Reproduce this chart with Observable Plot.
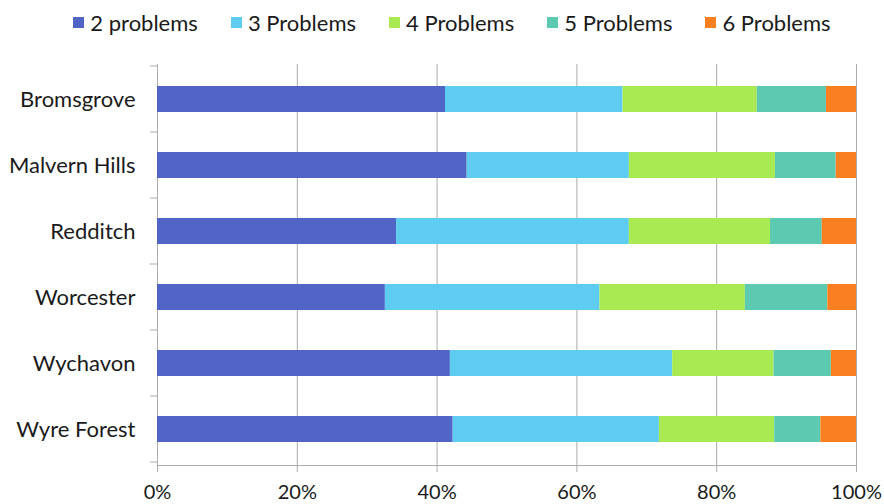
<!DOCTYPE html>
<html>
<head>
<meta charset="utf-8">
<script src="https://cdn.jsdelivr.net/npm/d3@7"></script>
<script src="https://cdn.jsdelivr.net/npm/@observablehq/plot@0.6"></script>
<style>
  html, body { margin: 0; padding: 0; background: #fff; }
  body { width: 884px; height: 504px; overflow: hidden; font-family: Lato, "Open Sans", sans-serif; color: #1a1a1a; }
  #legend { height: 45px; display: flex; justify-content: center; align-items: center; gap: 33px; padding-left: 20px; box-sizing: border-box; font-size: 22px; }
  #legend .item { display: flex; align-items: center; gap: 6px; }
  #legend .sw { width: 11px; height: 11px; display: inline-block; }
  #chart svg g[aria-label^="x-axis"] line, #chart svg g[aria-label^="x-axis"] path { stroke: #ababab; }
  #chart svg g[aria-label^="y-axis"] text { font-size: 22px; }
</style>
</head>
<body>
<div id="legend"></div>
<div id="chart"></div>
<script>
const districts = ["Bromsgrove", "Malvern Hills", "Redditch", "Worcester", "Wychavon", "Wyre Forest"];
const seriesNames = ["2 problems", "3 Problems", "4 Problems", "5 Problems", "6 Problems"];
const seriesColors = ["#5065c6", "#5ecbf0", "#a9e952", "#5ccab0", "#fa7f20"];
const twoProblems   = [41.2, 44.3, 34.2, 32.6, 41.9, 42.3];
const threeProblems = [25.4, 23.2, 33.3, 30.7, 31.8, 29.5];
const fourProblems  = [19.2, 20.9, 20.2, 20.8, 14.5, 16.5];
const fiveProblems  = [ 9.9,  8.7,  7.4, 11.8,  8.2,  6.6];
const sixProblems   = [ 4.3,  2.9,  4.9,  4.1,  3.6,  5.1];
const xTicks = [0, 20, 40, 60, 80, 100];

const seriesValues = [twoProblems, threeProblems, fourProblems, fiveProblems, sixProblems];
const data = [];
districts.forEach((d, i) => {
  seriesNames.forEach((s, j) => data.push({district: d, series: s, value: seriesValues[j][i]}));
});

// legend
const legend = document.getElementById("legend");
seriesNames.forEach((s, j) => {
  const item = document.createElement("div");
  item.className = "item";
  const sw = document.createElement("span");
  sw.className = "sw";
  sw.style.background = seriesColors[j];
  const t = document.createElement("span");
  t.textContent = s;
  item.appendChild(sw); item.appendChild(t);
  legend.appendChild(item);
});

const gridColor = "#ababab";

// small tick marks on the y axis at band boundaries, computed from the band scale
function bandBoundaryTicks(index, scales, values, dimensions) {
  const y = scales.y;
  const dom = y.domain();
  const bw = y.bandwidth ? y.bandwidth() : 0;
  const step = y.step ? y.step() : (dom.length > 1 ? y(dom[1]) - y(dom[0]) : bw);
  const x0 = dimensions.marginLeft;
  const bounds = dom.map(d => y(d) + bw / 2 - step / 2);
  bounds.push(y(dom[dom.length - 1]) + bw / 2 + step / 2);
  const g = d3.create("svg:g").attr("aria-label", "y-boundary-ticks");
  g.selectAll("line").data(bounds).join("line")
    .attr("x1", x0 - 7).attr("x2", x0)
    .attr("y1", b => b).attr("y2", b => b)
    .attr("stroke", gridColor);
  return g.node();
}

const plot = Plot.plot({
  width: 884,
  height: 459,
  marginTop: 19,
  marginBottom: 39,
  marginLeft: 157,
  marginRight: 28,
  style: { fontFamily: "Lato, 'Open Sans', sans-serif", fontSize: "20px", color: "#1a1a1a", background: "#fff" },
  x: { domain: [0, 100], ticks: xTicks, tickFormat: d => d + "%", tickSize: 7, tickPadding: 12, label: null },
  y: { domain: districts, paddingInner: 0.6, paddingOuter: 0.3, tickSize: 0, tickPadding: 22, label: null },
  color: { domain: seriesNames, range: seriesColors },
  marks: [
    Plot.ruleX(xTicks, { stroke: gridColor, strokeWidth: 1 }),
    Plot.barX(data, { x: "value", y: "district", fill: "series", order: null }),
    Plot.frame({ anchor: "bottom", stroke: gridColor }),
    bandBoundaryTicks
  ]
});
document.getElementById("chart").appendChild(plot);
</script>
</body>
</html>
